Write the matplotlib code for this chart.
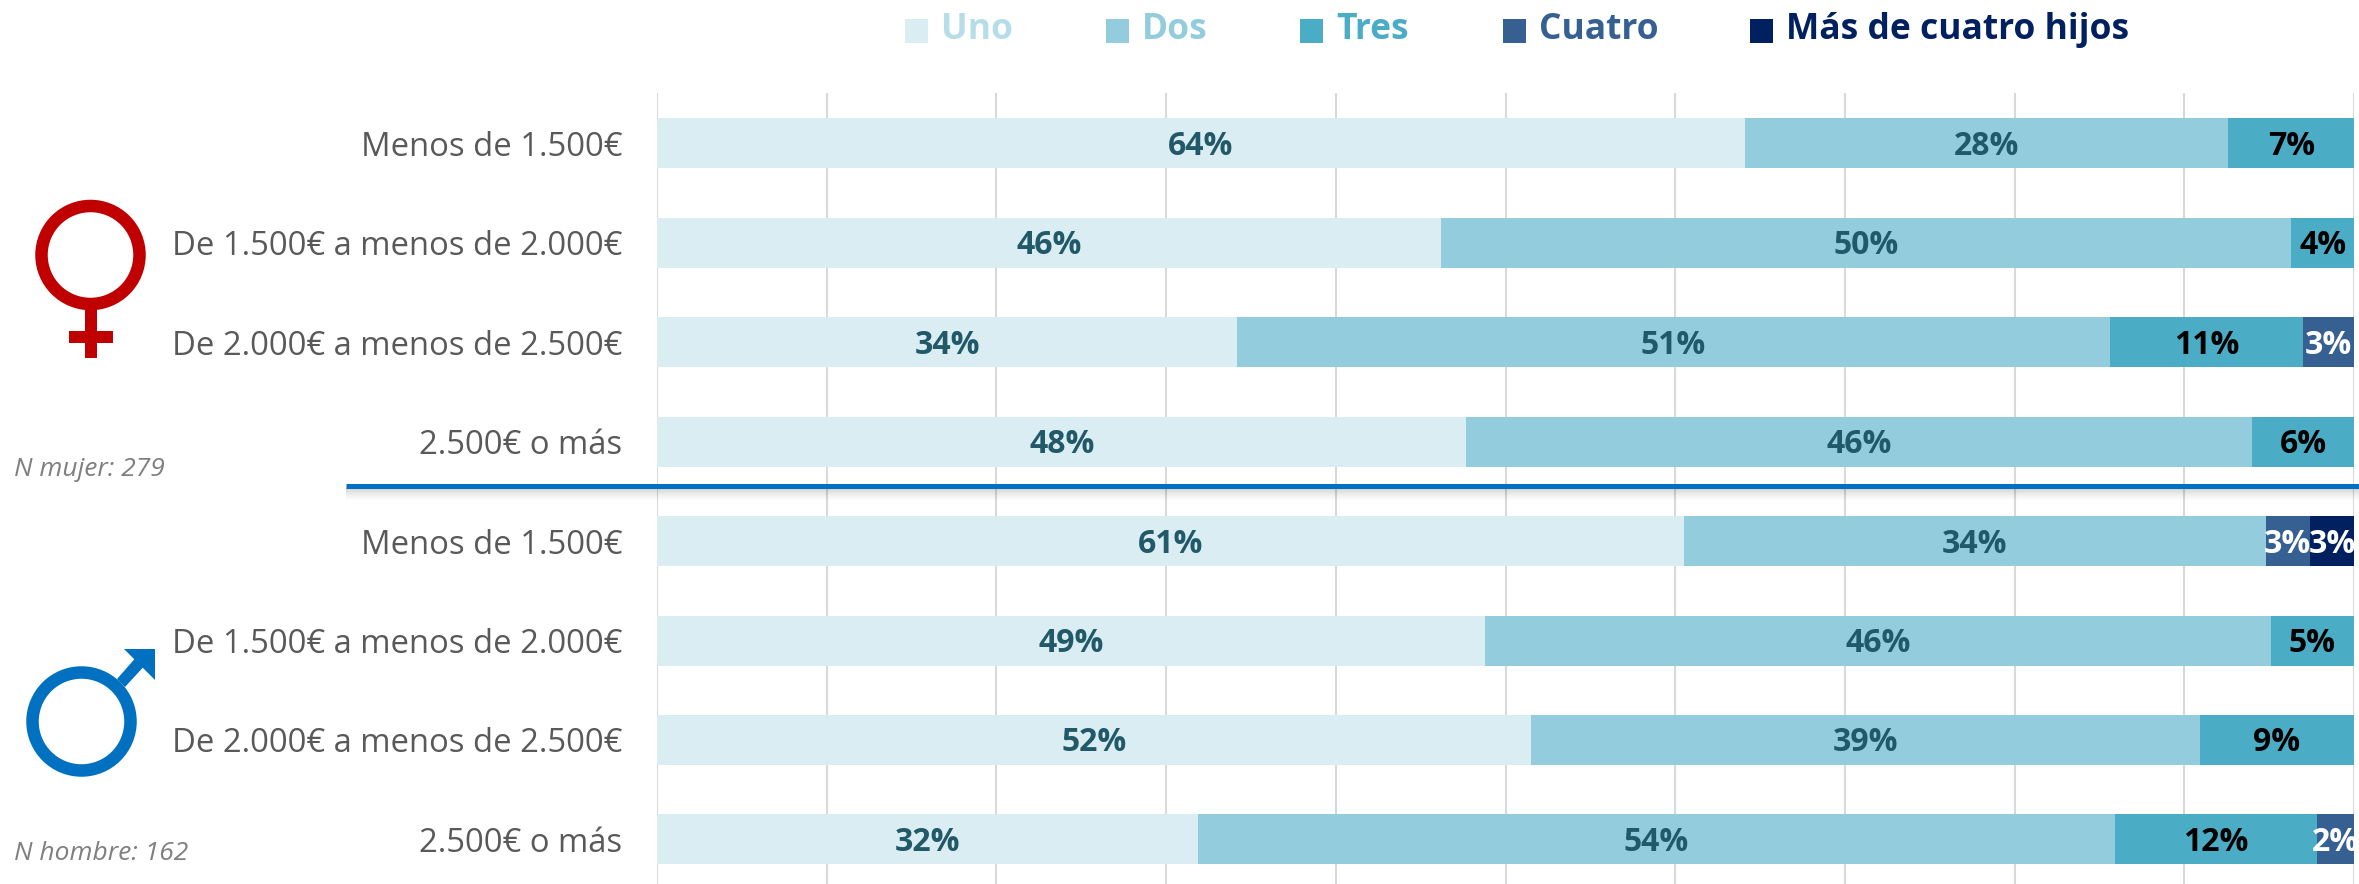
import matplotlib
matplotlib.use('Agg')
import matplotlib.pyplot as plt
import numpy as np
from matplotlib.patches import Ellipse, Polygon, Rectangle

plt.rcParams['font.family'] = ['Open Sans', 'DejaVu Sans']

W, H = 2359, 884

categories = ['Menos de 1.500€', 'De 1.500€ a menos de 2.000€', 'De 2.000€ a menos de 2.500€', '2.500€ o más',
              'Menos de 1.500€', 'De 1.500€ a menos de 2.000€', 'De 2.000€ a menos de 2.500€', '2.500€ o más']
series_names = ['Uno', 'Dos', 'Tres', 'Cuatro', 'Más de cuatro hijos']

uno = [64.1, 46.2, 34.2, 47.7, 60.5, 48.8, 51.5, 31.9]
dos = [28.5, 50.1, 51.4, 46.3, 34.3, 46.3, 39.4, 54.0]
tres = [7.4, 3.7, 11.4, 6.0, 0, 4.9, 9.1, 11.9]
cuatro = [0, 0, 3.0, 0, 2.6, 0, 0, 2.2]
mas_de_cuatro = [0, 0, 0, 0, 2.6, 0, 0, 0]
series = [uno, dos, tres, cuatro, mas_de_cuatro]

# etiquetas tal como aparecen (redondeadas)
uno_labels = ['64%', '46%', '34%', '48%', '61%', '49%', '52%', '32%']
dos_labels = ['28%', '50%', '51%', '46%', '34%', '46%', '39%', '54%']
tres_labels = ['7%', '4%', '11%', '6%', '', '5%', '9%', '12%']
cuatro_labels = ['', '', '3%', '', '3%', '', '', '2%']
mas_labels = ['', '', '', '', '3%', '', '', '']
labels = [uno_labels, dos_labels, tres_labels, cuatro_labels, mas_labels]

colors = ['#DAEDF3', '#93CDDD', '#4BACC6', '#376092', '#002060']
label_colors = ['#215968', '#215968', '#000000', '#FFFFFF', '#FFFFFF']
legend_text_colors = ['#B7DEE8', '#93CDDD', '#4BACC6', '#376092', '#002060']
legend_square_x = [905, 1106, 1300, 1503, 1750]

fig = plt.figure(figsize=(W / 100, H / 100), dpi=100)

# eje principal, en pixeles de la imagen
left, right, top = 657, 2354, 93
row_top = 143.5
row_step = 99.4
ax = fig.add_axes([left / W, 0, (right - left) / W, 1 - top / H])
ax.set_xlim(0, 100)
ax.set_ylim((H - row_top) / row_step, (top - row_top) / row_step)

y = np.arange(len(categories))
bottom = np.zeros(len(categories))
for vals, labs, c, lc in zip(series, labels, colors, label_colors):
    vals = np.array(vals)
    ax.barh(y, vals, left=bottom, height=50 / row_step, color=c, zorder=2)
    for i, lab in enumerate(labs):
        if lab:
            ax.text(bottom[i] + vals[i] / 2, y[i] + 0.03, lab, ha='center', va='center',
                    color=lc, fontsize=23, fontweight='bold', zorder=3)
    bottom += vals

ax.set_xticks(np.arange(0, 101, 10))
ax.set_xticklabels([])
ax.set_yticks(y)
ax.set_yticklabels(categories, fontsize=23.6, color='#595959')
ax.tick_params(axis='both', length=0)
ax.tick_params(axis='y', pad=25)
ax.grid(axis='x', color='#D9D9D9', linewidth=1.5, zorder=0)
ax.set_axisbelow(True)
for s in ax.spines.values():
    s.set_visible(False)

# capa en pixeles para leyenda, simbolos y linea divisoria
over = fig.add_axes([0, 0, 1, 1], zorder=5)
over.set_xlim(0, W)
over.set_ylim(H, 0)
over.axis('off')

for name, x0, c, tc in zip(series_names, legend_square_x, colors, legend_text_colors):
    over.add_patch(Rectangle((x0, 19), 23, 24, color=c, lw=0))
    over.text(x0 + 36, 30, name, ha='left', va='center', color=tc, fontsize=25.5, fontweight='bold')

# linea divisoria con sombra
for k, a in enumerate([0.16, 0.12, 0.09, 0.06, 0.04, 0.02]):
    over.plot([346, W], [489 + 2 * k, 489 + 2 * k], color='#000000', alpha=a, lw=1.5, solid_capstyle='butt')
over.plot([346, W], [485.5, 485.5], color='#0070C0', lw=3.6, solid_capstyle='butt')

# simbolo mujer
red = '#C00000'
over.add_patch(Ellipse((90.5, 255), 98, 98, fill=False, ec=red, lw=9))
over.add_patch(Rectangle((84.5, 308), 12.5, 50, color=red, lw=0))
over.add_patch(Rectangle((69, 331), 43.5, 12, color=red, lw=0))

# simbolo hombre
blue = '#0070C0'
over.add_patch(Ellipse((81.5, 721.5), 98, 98, fill=False, ec=blue, lw=9))
over.add_patch(Polygon([(117, 679), (125, 687), (148, 662), (139, 654)], color=blue, lw=0))
over.add_patch(Polygon([(124, 649), (155, 649), (155, 680)], color=blue, lw=0))

over.text(14, 470, 'N mujer: 279', ha='left', va='center', color='#7F7F7F', fontsize=19, style='italic')
over.text(14, 853, 'N hombre: 162', ha='left', va='center', color='#7F7F7F', fontsize=19, style='italic')

fig.savefig('out.png', dpi=100)
